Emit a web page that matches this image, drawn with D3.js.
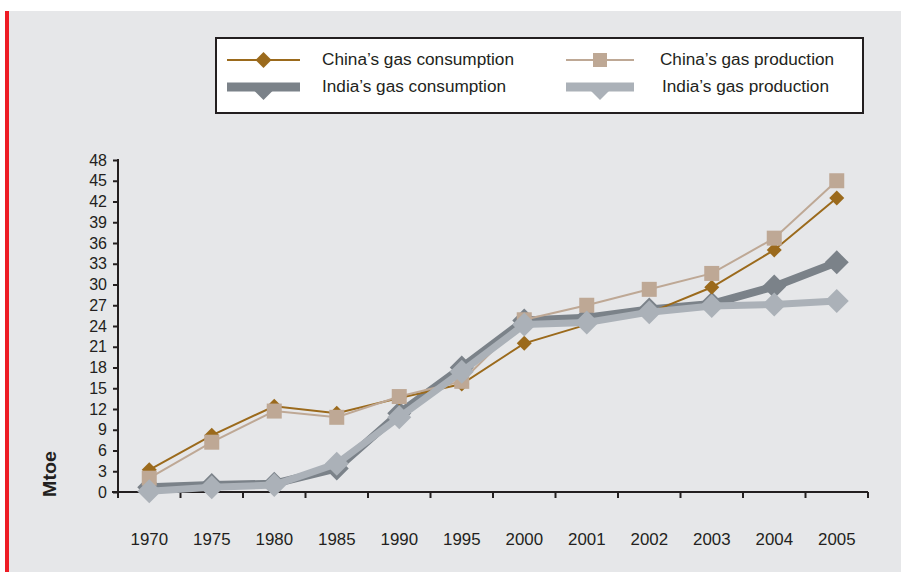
<!DOCTYPE html>
<html><head><meta charset="utf-8">
<script src="https://cdn.jsdelivr.net/npm/d3@7"></script>
<style>
html,body{margin:0;padding:0;background:#fff;}
svg{display:block;font-family:"Liberation Sans",Arial,sans-serif;}
</style></head>
<body>
<svg id="chart" width="901" height="572"></svg>
<script>
const years = ["1970","1975","1980","1985","1990","1995","2000","2001","2002","2003","2004","2005"];
const chinaConsumption = [3.2, 8.2, 12.4, 11.4, 13.6, 15.6, 21.5, 24.2, 25.9, 29.6, 35.0, 42.5];
const chinaProduction  = [2.0, 7.2, 11.7, 10.8, 13.8, 16.0, 24.9, 27.0, 29.3, 31.6, 36.7, 45.0];
const indiaConsumption = [0.7, 1.0, 1.2, 3.4, 11.4, 18.0, 24.8, 25.2, 26.4, 27.2, 29.7, 33.2];
const indiaProduction  = [0.1, 0.7, 1.0, 4.1, 10.8, 17.4, 24.2, 24.5, 26.0, 26.9, 27.1, 27.6];
const yTicks = [0,3,6,9,12,15,18,21,24,27,30,33,36,39,42,45,48];
const seriesNames = ["China’s gas consumption","China’s gas production","India’s gas consumption","India’s gas production"];

const svg = d3.select("#chart");
svg.append("rect").attr("x",8).attr("y",11).attr("width",893).attr("height",561).attr("fill","#e6e7e9");
svg.append("rect").attr("x",5).attr("y",11).attr("width",4).attr("height",561).attr("fill","#ee1c25");

const x = d3.scaleBand().domain(years).range([118,868]).padding(0);
const y = d3.scaleLinear().domain([0,48]).range([492,160]);
const cx = d => x(d) + x.bandwidth()/2;

const yAxis = svg.append("g").attr("transform","translate(118,0)")
  .call(d3.axisLeft(y).tickValues(yTicks).tickSize(5).tickPadding(6));
yAxis.select(".domain").attr("stroke","#231f20").attr("stroke-width",2).attr("d","M0,159V493");
yAxis.selectAll(".tick line").attr("stroke","#231f20").attr("stroke-width",2);
yAxis.selectAll(".tick text").attr("fill","#231f20").style("font-size","16px").style("font-family","Liberation Sans, Arial, sans-serif");

const xAxis = svg.append("g").attr("transform","translate(0,492)")
  .call(d3.axisBottom(x).tickSize(0).tickPadding(42));
xAxis.select(".domain").attr("stroke","#231f20").attr("stroke-width",2).attr("d","M112,0H868");
xAxis.selectAll(".tick text").attr("fill","#231f20").style("font-size","16px")
  .style("font-family","Liberation Sans, Arial, sans-serif")
  .attr("textLength",37.5).attr("lengthAdjust","spacingAndGlyphs");
const edges = years.map(d => x(d)).concat([x(years[years.length-1]) + x.bandwidth()]);
svg.append("g").selectAll("line").data(edges).join("line")
  .attr("x1",d=>d).attr("x2",d=>d).attr("y1",492).attr("y2",498)
  .attr("stroke","#231f20").attr("stroke-width",2);

svg.append("text").attr("transform","translate(56,474) rotate(-90)")
  .attr("text-anchor","middle").attr("font-weight","bold").attr("font-size","18px")
  .attr("textLength",46).attr("lengthAdjust","spacingAndGlyphs")
  .attr("fill","#231f20").text("Mtoe");

const line = d3.line().x((d,i)=>cx(years[i])).y(d=>y(d));
const diamond = s => `M0,${-s}L${s},0L0,${s}L${-s},0Z`;

const g = svg.append("g");
g.append("path").datum(indiaConsumption).attr("d",line).attr("fill","none")
  .attr("stroke","#7b8289").attr("stroke-width",8).attr("stroke-linejoin","round");
g.selectAll(".ic").data(indiaConsumption).join("path").attr("class","ic")
  .attr("transform",(d,i)=>`translate(${cx(years[i])},${y(d)})`).attr("d",diamond(12)).attr("fill","#7b8289");
g.append("path").datum(chinaConsumption).attr("d",line).attr("fill","none")
  .attr("stroke","#9b6a1c").attr("stroke-width",2);
g.selectAll(".cc").data(chinaConsumption).join("path").attr("class","cc")
  .attr("transform",(d,i)=>`translate(${cx(years[i])},${y(d)})`).attr("d",diamond(7.5)).attr("fill","#9b6a1c");
g.append("path").datum(chinaProduction).attr("d",line).attr("fill","none")
  .attr("stroke","#bea895").attr("stroke-width",2);
g.selectAll(".cp").data(chinaProduction).join("rect").attr("class","cp")
  .attr("x",(d,i)=>cx(years[i])-7.5).attr("y",d=>y(d)-7.5).attr("width",15).attr("height",15).attr("fill","#bea895");
g.append("path").datum(indiaProduction).attr("d",line).attr("fill","none")
  .attr("stroke","#abb1b8").attr("stroke-width",7).attr("stroke-linejoin","round");
g.selectAll(".ip").data(indiaProduction).join("path").attr("class","ip")
  .attr("transform",(d,i)=>`translate(${cx(years[i])},${y(d)})`).attr("d",diamond(12)).attr("fill","#abb1b8");

const lg = svg.append("g");
lg.append("rect").attr("x",216).attr("y",38).attr("width",647).attr("height",75)
  .attr("fill","#fff").attr("stroke","#231f20").attr("stroke-width",2);
const legendItems = [
  {name:seriesNames[0], x1:227, x2:300, y:60, tx:322, tl:192, color:"#9b6a1c", w:2, type:"diamond"},
  {name:seriesNames[1], x1:566, x2:634, y:60, tx:660, tl:174, color:"#bea895", w:2, type:"square"},
  {name:seriesNames[2], x1:227, x2:300, y:87, tx:322, tl:184, color:"#7b8289", w:9, type:"tri"},
  {name:seriesNames[3], x1:566, x2:634, y:87, tx:662, tl:167, color:"#abb1b8", w:9, type:"tri"}
];
legendItems.forEach(it=>{
  const mx = (it.x1+it.x2)/2;
  lg.append("line").attr("x1",it.x1).attr("x2",it.x2).attr("y1",it.y).attr("y2",it.y)
    .attr("stroke",it.color).attr("stroke-width",it.w);
  if(it.type==="diamond") lg.append("path").attr("transform",`translate(${mx},${it.y})`).attr("d",diamond(8)).attr("fill",it.color);
  if(it.type==="square") lg.append("rect").attr("x",mx-7).attr("y",it.y-7).attr("width",14).attr("height",14).attr("fill",it.color);
  if(it.type==="tri") lg.append("path").attr("d",`M${mx-9},${it.y+4}L${mx+9},${it.y+4}L${mx},${it.y+13}Z`).attr("fill",it.color);
  lg.append("text").attr("x",it.tx).attr("y",it.y+5).attr("font-size","16px").attr("fill","#231f20")
    .attr("textLength",it.tl).attr("lengthAdjust","spacingAndGlyphs").text(it.name);
});
</script>
</body></html>
